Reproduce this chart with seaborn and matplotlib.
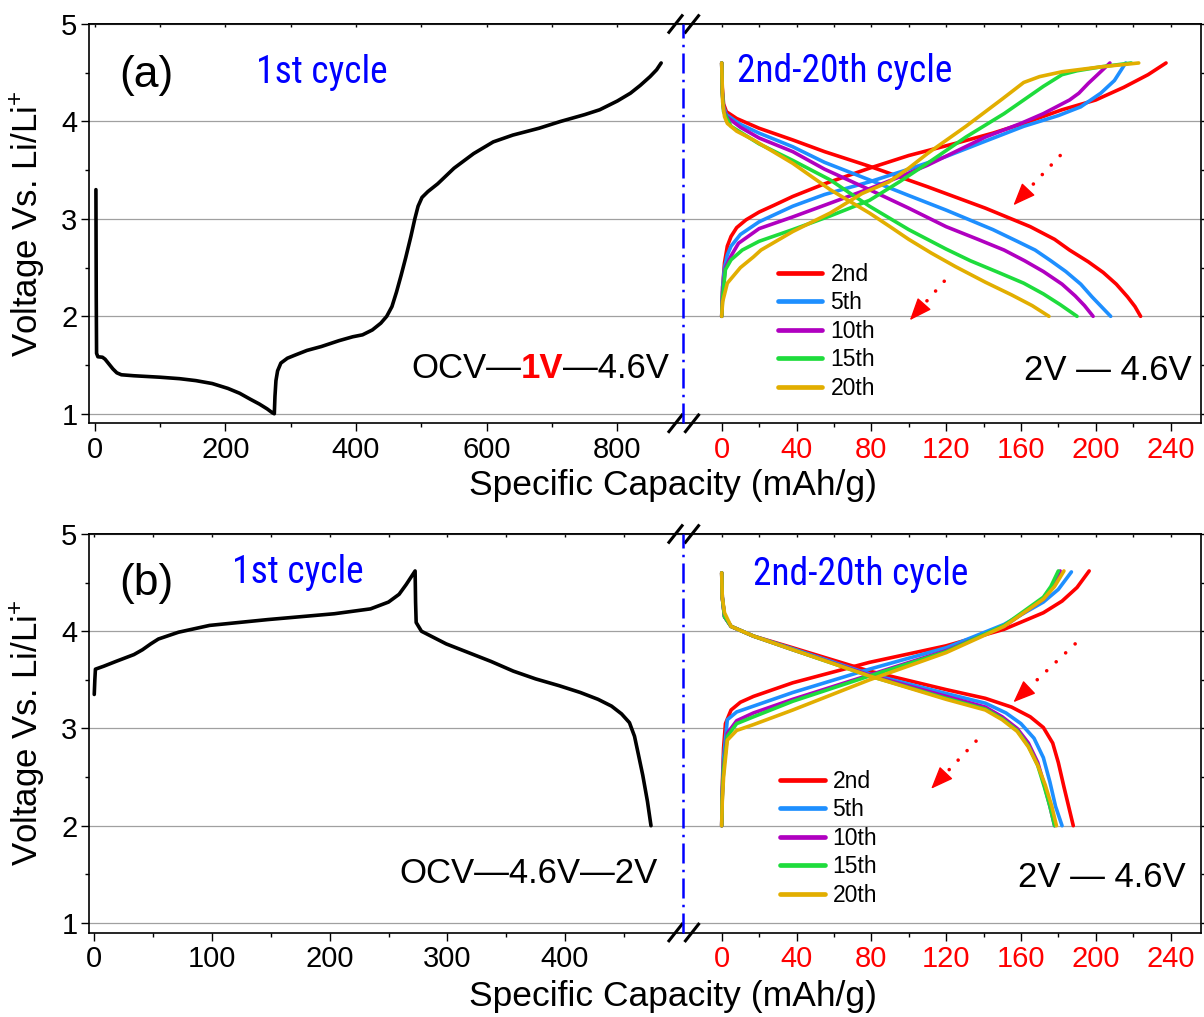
import numpy as np
import matplotlib
matplotlib.use("Agg")
import matplotlib.pyplot as plt
import seaborn as sns
from matplotlib.lines import Line2D
from matplotlib.ticker import FixedLocator
from matplotlib import font_manager as fm

# ---------------------------------------------------------------- data
cycle_labels = ["2nd", "5th", "10th", "15th", "20th"]
cycle_colors = ["#ff0000", "#1e8fff", "#b000c0", "#1edc3c", "#e2ae00"]

y_ticks = [1, 2, 3, 4, 5]
y_minor = [1.5, 2.5, 3.5, 4.5]
a_left_xticks = [0, 200, 400, 600, 800]
a_left_xminor = [100, 300, 500, 700]
b_left_xticks = [0, 100, 200, 300, 400]
b_left_xminor = [50, 150, 250, 350, 450]
right_xticks = [0, 40, 80, 120, 160, 200, 240]
right_xminor = [20, 60, 100, 140, 180, 220]

# ---- panel (a) : first cycle OCV -> 1 V -> 4.6 V
a_first_cap = [2, 2.5, 3, 5, 12, 16, 22, 28, 34, 41, 60, 100, 130, 155, 180,
               204, 222, 238, 252, 264, 272, 275, 276, 277.5, 280, 285, 295,
               306, 325, 347, 374, 395, 410, 425, 438, 447, 455, 462, 469, 476,
               484, 490, 495, 501, 510, 525, 550, 580, 610, 640, 680, 713, 750,
               773, 800, 820, 835, 850, 860, 867]
a_first_v = [3.30, 2.20, 1.62, 1.585, 1.58, 1.56, 1.51, 1.46, 1.42, 1.40, 1.39,
             1.375, 1.36, 1.34, 1.31, 1.26, 1.21, 1.15, 1.10, 1.05, 1.01, 1.00,
             1.18, 1.34, 1.44, 1.52, 1.57, 1.60, 1.65, 1.69, 1.75, 1.79, 1.81,
             1.86, 1.93, 2.00, 2.10, 2.25, 2.42, 2.60, 2.82, 3.00, 3.13, 3.22,
             3.28, 3.36, 3.52, 3.67, 3.79, 3.86, 3.93, 4.00, 4.07, 4.12, 4.21,
             4.29, 4.37, 4.46, 4.53, 4.60]

# ---- panel (a) : cycles 2-20, charge
a_chg_cap_2nd = [0, 0.5, 1.5, 3, 5, 8, 13, 20, 28, 38, 55, 79, 100, 126, 145, 161.5, 182, 200, 215, 228, 237.6]
a_chg_v_2nd = [2.0, 2.3, 2.55, 2.72, 2.82, 2.91, 2.99, 3.07, 3.14, 3.23, 3.36, 3.52, 3.65, 3.78, 3.88, 3.98, 4.12, 4.22, 4.35, 4.48, 4.60]
a_chg_cap_5th = [0, 0.5, 1.5, 3, 5, 10, 20, 38, 55, 79, 100, 120, 140, 161.5, 180, 192, 202.7, 210, 216]
a_chg_v_5th = [2.0, 2.3, 2.5, 2.63, 2.72, 2.84, 2.97, 3.13, 3.25, 3.38, 3.51, 3.64, 3.79, 3.95, 4.06, 4.15, 4.29, 4.42, 4.60]
a_chg_cap_10th = [0, 0.5, 2, 5, 9, 20, 38, 55, 79, 95, 110, 125, 141, 160, 172, 186, 191, 196, 201, 207.6]
a_chg_v_10th = [2.0, 2.25, 2.5, 2.62, 2.75, 2.90, 3.02, 3.14, 3.31, 3.43, 3.55, 3.69, 3.84, 3.98, 4.08, 4.22, 4.29, 4.39, 4.48, 4.60]
a_chg_cap_15th = [0, 0.5, 2, 5, 11, 20, 38, 58, 79, 95, 110, 130.6, 151, 172, 182, 190, 202.7, 219]
a_chg_v_15th = [2.0, 2.2, 2.48, 2.58, 2.68, 2.77, 2.89, 3.03, 3.19, 3.38, 3.57, 3.84, 4.08, 4.36, 4.48, 4.52, 4.56, 4.60]
a_chg_cap_20th = [0, 0.5, 3, 10, 17, 21, 38, 58, 75, 89.5, 100, 110, 130.6, 150, 161.5, 170, 182, 202.7, 223]
a_chg_v_20th = [2.0, 2.15, 2.34, 2.50, 2.61, 2.68, 2.87, 3.06, 3.26, 3.38, 3.52, 3.67, 3.95, 4.23, 4.40, 4.46, 4.51, 4.56, 4.60]

# ---- panel (a) : cycles 2-20, discharge
a_dis_cap_2nd = [0, 0.3, 1, 2.5, 8, 20, 38, 55, 79, 110, 141, 165, 178, 186, 196, 204, 211, 217, 221, 224]
a_dis_v_2nd = [4.60, 4.35, 4.18, 4.10, 4.03, 3.93, 3.81, 3.69, 3.54, 3.33, 3.11, 2.92, 2.79, 2.68, 2.56, 2.45, 2.33, 2.20, 2.10, 2.0]
a_dis_cap_5th = [0, 0.3, 1, 2.5, 10, 20, 38, 55, 79, 100, 120, 145, 158, 167.6, 176, 184, 192, 198, 203, 208]
a_dis_v_5th = [4.60, 4.30, 4.15, 4.07, 3.97, 3.88, 3.74, 3.58, 3.40, 3.24, 3.09, 2.89, 2.77, 2.68, 2.57, 2.46, 2.33, 2.20, 2.10, 2.0]
a_dis_cap_10th = [0, 0.3, 1, 2.5, 10, 20, 38, 55, 79, 100, 120, 137, 151, 162, 172, 182, 189, 194, 198.6]
a_dis_v_10th = [4.60, 4.30, 4.13, 4.05, 3.94, 3.83, 3.69, 3.51, 3.30, 3.11, 2.92, 2.79, 2.68, 2.57, 2.46, 2.33, 2.21, 2.11, 2.0]
a_dis_cap_15th = [0, 0.3, 1, 5, 20, 38, 58, 79, 100, 112, 120, 133, 148, 161.5, 172, 181, 190]
a_dis_v_15th = [4.60, 4.30, 4.10, 3.95, 3.77, 3.60, 3.40, 3.13, 2.89, 2.77, 2.69, 2.57, 2.45, 2.34, 2.23, 2.12, 2.0]
a_dis_cap_20th = [0, 0.5, 1.5, 3, 8, 17, 38, 58, 79, 90, 100, 112, 125, 141, 155, 166, 175]
a_dis_v_20th = [4.60, 4.20, 4.05, 3.98, 3.90, 3.81, 3.57, 3.30, 3.06, 2.92, 2.79, 2.65, 2.51, 2.35, 2.22, 2.11, 2.0]

# ---- panel (b) : first cycle OCV -> 4.6 V -> 2 V
b_first_cap = [0, 0.5, 1, 8, 18.5, 33.7, 41, 48, 54.5, 71.6, 98, 147.5, 204, 234.7,
               250, 259, 265, 272.6, 273, 273.5, 278, 299, 318, 337, 356, 375,
               395, 413, 428, 439.5, 448, 454.7, 459, 462, 466, 470, 473]
b_first_v = [3.35, 3.50, 3.61, 3.64, 3.69, 3.76, 3.81, 3.87, 3.92, 3.99, 4.06,
             4.12, 4.18, 4.23, 4.30, 4.38, 4.48, 4.62, 4.30, 4.09, 4.00, 3.87,
             3.78, 3.69, 3.59, 3.51, 3.44, 3.37, 3.30, 3.23, 3.15, 3.06, 2.92,
             2.75, 2.52, 2.25, 2.0]

# ---- panel (b) : cycles 2-20, charge
b_chg_cap_2nd = [0, 0.3, 1, 2, 5, 10, 17, 38, 79, 120, 151, 172, 182, 190, 196.5]
b_chg_v_2nd = [2.0, 2.4, 2.8, 3.05, 3.19, 3.27, 3.33, 3.47, 3.68, 3.85, 4.02, 4.19, 4.31, 4.45, 4.62]
b_chg_cap_5th = [0, 0.3, 1, 3, 8, 17, 38, 79, 120, 151, 172, 180, 187]
b_chg_v_5th = [2.0, 2.35, 2.7, 3.09, 3.17, 3.23, 3.37, 3.61, 3.83, 4.07, 4.30, 4.43, 4.61]
b_chg_cap_10th = [0, 0.3, 1, 3, 8, 17, 38, 79, 120, 151, 172, 177, 181]
b_chg_v_10th = [2.0, 2.3, 2.6, 2.95, 3.08, 3.16, 3.30, 3.55, 3.80, 4.05, 4.33, 4.45, 4.62]
b_chg_cap_15th = [0, 0.3, 1, 3, 8, 17, 38, 79, 120, 151, 172, 176, 180]
b_chg_v_15th = [2.0, 2.3, 2.58, 2.92, 3.05, 3.12, 3.28, 3.54, 3.79, 4.06, 4.35, 4.46, 4.62]
b_chg_cap_20th = [0, 0.3, 1, 3, 8, 17, 38, 79, 120, 151, 172, 178, 183]
b_chg_v_20th = [2.0, 2.25, 2.5, 2.88, 2.98, 3.04, 3.19, 3.50, 3.78, 4.05, 4.33, 4.46, 4.62]

# ---- panel (b) : cycles 2-20, discharge
b_dis_cap_2nd = [0, 0.3, 1.5, 5, 17, 38, 79, 120, 141, 155, 165, 172, 177, 180, 183, 185.5, 188]
b_dis_v_2nd = [4.60, 4.35, 4.15, 4.05, 3.95, 3.83, 3.59, 3.40, 3.31, 3.22, 3.12, 3.01, 2.85, 2.65, 2.40, 2.20, 2.0]
b_dis_cap_5th = [0, 0.3, 1.5, 5, 17, 38, 79, 120, 141, 152, 160, 167, 172, 175.5, 178.5, 182]
b_dis_v_5th = [4.60, 4.35, 4.15, 4.05, 3.95, 3.82, 3.56, 3.36, 3.26, 3.16, 3.05, 2.90, 2.70, 2.45, 2.20, 2.0]
b_dis_cap_10th = [0, 0.3, 1.5, 5, 17, 38, 79, 120, 141, 150, 158, 164, 169, 172.5, 175.5, 178]
b_dis_v_10th = [4.60, 4.35, 4.15, 4.05, 3.95, 3.81, 3.55, 3.33, 3.22, 3.12, 3.00, 2.85, 2.65, 2.42, 2.20, 2.0]
b_dis_cap_15th = [0, 0.3, 1.5, 5, 17, 38, 79, 120, 141, 150, 158, 164, 169, 172.5, 175.5, 178]
b_dis_v_15th = [4.60, 4.35, 4.15, 4.05, 3.95, 3.81, 3.54, 3.31, 3.20, 3.10, 2.98, 2.82, 2.62, 2.40, 2.20, 2.0]
b_dis_cap_20th = [0, 0.3, 1.5, 5, 17, 38, 79, 120, 141, 150, 158, 164, 169, 173, 176.5, 179]
b_dis_v_20th = [4.60, 4.35, 4.19, 4.05, 3.95, 3.81, 3.54, 3.30, 3.19, 3.09, 2.97, 2.81, 2.62, 2.42, 2.20, 2.0]

# ---- red trend arrows (start, end) in right-axis data units
a_arrow_1 = [(181, 3.65), (156, 3.14)]
a_arrow_2 = [(119, 2.36), (100.6, 1.96)]
b_arrow_1 = [(189, 3.87), (156, 3.27)]
b_arrow_2 = [(136, 2.87), (112, 2.38)]

# ---------------------------------------------------------------- style
sns.set_style("ticks")
plt.rcParams.update({
    "font.family": ["Liberation Sans", "DejaVu Sans"],
    "mathtext.fontset": "custom",
    "mathtext.rm": "Liberation Sans",
    "mathtext.it": "Liberation Sans:italic",
    "mathtext.bf": "Liberation Sans:bold",
    "axes.edgecolor": "black",
    "axes.linewidth": 1.2,
    "text.color": "black",
    "axes.labelcolor": "black",
    "xtick.color": "black",
    "ytick.color": "black",
})

_fonts = fm.fontManager.ttflist


def _has(name):
    return any(f.name == name for f in _fonts)


if _has("Liberation Sans Narrow"):
    CYC = dict(family=["Liberation Sans Narrow", "Liberation Sans"], fontsize=28)
elif _has("Roboto Condensed"):
    CYC = dict(family=["Roboto Condensed", "Liberation Sans"], fontsize=27)
else:
    CYC = dict(family=["Liberation Sans", "DejaVu Sans"], fontsize=24)

W, H = 1204, 1017
fig = plt.figure(figsize=(W / 100, H / 100), dpi=100)


def fpos(x0, y_top, x1, y_bot):
    return [x0 / W, 1 - y_bot / H, (x1 - x0) / W, (y_bot - y_top) / H]


SPLIT = 683
ax_al = fig.add_axes(fpos(88.6, 24, SPLIT, 423.3))
ax_ar = fig.add_axes(fpos(SPLIT, 24, 1201, 423.3))
ax_bl = fig.add_axes(fpos(88.6, 534, SPLIT, 932.5))
ax_br = fig.add_axes(fpos(SPLIT, 534, 1201, 932.5))

YLIM = (0.902, 5.0)
LW = 2.6
TICKFS = 21


def style_axes(ax_l, ax_r, lxt, lxm, lxlim):
    for ax in (ax_l, ax_r):
        ax.set_ylim(*YLIM)
        ax.yaxis.set_major_locator(FixedLocator(y_ticks))
        ax.yaxis.set_minor_locator(FixedLocator(y_minor))
        ax.grid(axis="y", which="major", color="#a0a0a0", lw=0.9)
        ax.set_axisbelow(True)
        ax.set_xlabel("")
        ax.set_ylabel("")
        ax.tick_params(axis="x", which="major", direction="out", length=5.5,
                       width=1.0, labelsize=TICKFS, pad=3.5)
        ax.tick_params(axis="x", which="minor", direction="out", length=3,
                       width=1.0)
    ax_l.set_xlim(*lxlim)
    ax_l.xaxis.set_major_locator(FixedLocator(lxt))
    ax_l.xaxis.set_minor_locator(FixedLocator(lxm))
    ax_l.spines["right"].set_visible(False)
    ax_l.tick_params(axis="y", which="major", direction="out", length=6,
                     width=1.0, labelsize=TICKFS, pad=2)
    ax_l.tick_params(axis="y", which="minor", direction="out", length=3,
                     width=1.0)

    ax_r.set_xlim(-20.7, 256.3)
    ax_r.xaxis.set_major_locator(FixedLocator(right_xticks))
    ax_r.xaxis.set_minor_locator(FixedLocator(right_xminor))
    ax_r.spines["left"].set_visible(False)
    ax_r.tick_params(axis="x", which="major", labelcolor="#ff0000")
    ax_r.tick_params(axis="y", which="both", left=False, labelleft=False,
                     right=True, direction="out", width=1.0)
    ax_r.tick_params(axis="y", which="major", length=6)
    ax_r.tick_params(axis="y", which="minor", length=3)

    # tiny top ticks
    for ax, mj, mn in ((ax_l, lxt, lxm), (ax_r, right_xticks, right_xminor)):
        sec = ax.secondary_xaxis("top")
        sec.xaxis.set_major_locator(FixedLocator(sorted(list(mj) + list(mn))))
        sec.tick_params(direction="in", length=2.5, width=1.0, labeltop=False)


def draw_curves(ax, caps, vs, colors):
    for c, v, col in zip(caps, vs, colors):
        sns.lineplot(x=c, y=v, ax=ax, color=col, linewidth=LW, sort=False,
                     estimator=None, legend=False)


def red_arrow(ax, arrow):
    (x0, y0), (x1, y1) = arrow
    # dotted shaft
    ax.annotate("", xy=(x1, y1), xytext=(x0, y0),
                arrowprops=dict(arrowstyle="-", color="#ff0000", lw=2.6,
                                linestyle=(0, (0.01, 3.6)), capstyle="round",
                                shrinkA=0, shrinkB=12))
    # solid arrow head
    p0 = ax.transData.transform((x0, y0))
    p1 = ax.transData.transform((x1, y1))
    d = (p1 - p0) / np.hypot(*(p1 - p0))
    ax.annotate("", xy=(x1, y1), xytext=(-d[0] * 14, -d[1] * 14),
                textcoords="offset points",
                arrowprops=dict(arrowstyle="-|>,head_length=0.7,head_width=0.28",
                                color="#ff0000", lw=1.0, mutation_scale=20,
                                shrinkA=0, shrinkB=0))


def break_marks(ax_r):
    b = ax_r.get_position()
    xs = b.x0 * W
    for yf in (b.y0, b.y1):
        yc = yf * H
        for dx in (-7.5, 9):
            cx = xs + dx
            fig.add_artist(Line2D([(cx - 7.5) / W, (cx + 7.5) / W],
                                  [(yc - 9.5) / H, (yc + 9.5) / H],
                                  color="black", lw=2.2, solid_capstyle="butt"))
    fig.add_artist(Line2D([xs / W, xs / W], [b.y0, b.y1], color="#0000ff",
                          lw=1.8, linestyle=(0, (8, 2.5, 1, 2.5))))


def legend(ax, x, y):
    handles = [Line2D([], [], color=c, lw=LW * 1.3) for c in cycle_colors]
    ax.legend(handles, cycle_labels, loc="upper left", bbox_to_anchor=(x, y),
              frameon=False, fontsize=16.5, handlelength=1.95,
              handletextpad=0.35, labelspacing=0.24, borderpad=0,
              borderaxespad=0)


# ---------------------------------------------------------------- panel (a)
sns.lineplot(x=a_first_cap, y=a_first_v, ax=ax_al, color="black",
             linewidth=LW, sort=False, estimator=None, legend=False)
draw_curves(ax_ar,
            [a_chg_cap_2nd, a_dis_cap_2nd, a_chg_cap_5th, a_dis_cap_5th,
             a_chg_cap_10th, a_dis_cap_10th, a_chg_cap_15th, a_dis_cap_15th,
             a_chg_cap_20th, a_dis_cap_20th],
            [a_chg_v_2nd, a_dis_v_2nd, a_chg_v_5th, a_dis_v_5th,
             a_chg_v_10th, a_dis_v_10th, a_chg_v_15th, a_dis_v_15th,
             a_chg_v_20th, a_dis_v_20th],
            [c for c in cycle_colors for _ in range(2)])
style_axes(ax_al, ax_ar, a_left_xticks, a_left_xminor, (-9.2, 900.4))
red_arrow(ax_ar, a_arrow_1)
red_arrow(ax_ar, a_arrow_2)
legend(ax_ar, 0.183, 0.4015)

ax_al.text(0.098, 0.872, "(a)", transform=ax_al.transAxes, fontsize=32,
           ha="center", va="center")
ax_al.text(0.393, 0.852, "1st cycle", transform=ax_al.transAxes,
           color="#0000ff", ha="center", va="baseline", **CYC)
ax_ar.text(0.313, 0.855, "2nd-20th cycle", transform=ax_ar.transAxes,
           color="#0000ff", ha="center", va="baseline", **CYC)
t1 = ax_al.text(0.5424, 0.1128, "OCV\u2014", transform=ax_al.transAxes,
                fontsize=25, ha="left", va="baseline")
t2 = ax_al.annotate("1V", xy=(1, 0), xycoords=t1, fontsize=25,
                    color="#ff0000", fontweight="bold", ha="left", va="bottom")
ax_al.annotate("\u20144.6V", xy=(1, 0), xycoords=t2, fontsize=25,
               ha="left", va="bottom")
ax_ar.text(0.981, 0.108, "2V \u2014 4.6V", transform=ax_ar.transAxes,
           fontsize=25, ha="right", va="baseline")

# ---------------------------------------------------------------- panel (b)
sns.lineplot(x=b_first_cap, y=b_first_v, ax=ax_bl, color="black",
             linewidth=LW, sort=False, estimator=None, legend=False)
draw_curves(ax_br,
            [b_chg_cap_2nd, b_dis_cap_2nd, b_chg_cap_5th, b_dis_cap_5th,
             b_chg_cap_10th, b_dis_cap_10th, b_chg_cap_15th, b_dis_cap_15th,
             b_chg_cap_20th, b_dis_cap_20th],
            [b_chg_v_2nd, b_dis_v_2nd, b_chg_v_5th, b_dis_v_5th,
             b_chg_v_10th, b_dis_v_10th, b_chg_v_15th, b_dis_v_15th,
             b_chg_v_20th, b_dis_v_20th],
            [c for c in cycle_colors for _ in range(2)])
style_axes(ax_bl, ax_br, b_left_xticks, b_left_xminor, (-4.8, 500.2))
red_arrow(ax_br, b_arrow_1)
red_arrow(ax_br, b_arrow_2)
legend(ax_br, 0.187, 0.408)

ax_bl.text(0.098, 0.877, "(b)", transform=ax_bl.transAxes, fontsize=32,
           ha="center", va="center")
ax_bl.text(0.352, 0.877, "1st cycle", transform=ax_bl.transAxes,
           color="#0000ff", ha="center", va="baseline", **CYC)
ax_br.text(0.343, 0.872, "2nd-20th cycle", transform=ax_br.transAxes,
           color="#0000ff", ha="center", va="baseline", **CYC)
ax_bl.text(0.522, 0.125, "OCV\u20144.6V\u20142V", transform=ax_bl.transAxes,
           fontsize=25, ha="left", va="baseline")
ax_br.text(0.970, 0.115, "2V \u2014 4.6V", transform=ax_br.transAxes,
           fontsize=25, ha="right", va="baseline")

# ---------------------------------------------------------------- decorations
for axr in (ax_ar, ax_br):
    break_marks(axr)

for ytop, ybot, ybase in ((24, 423.3, 495), (534, 932.5, 1006)):
    fig.text(28 / W, 1 - (ytop + ybot) / 2 / H, "Voltage Vs. Li/Li$^{+}$",
             rotation=90, fontsize=25, ha="center", va="center")
    fig.text(673 / W, 1 - ybase / H, "Specific Capacity (mAh/g)",
             fontsize=25.5, ha="center", va="baseline")

fig.savefig("out.png", dpi=100)
